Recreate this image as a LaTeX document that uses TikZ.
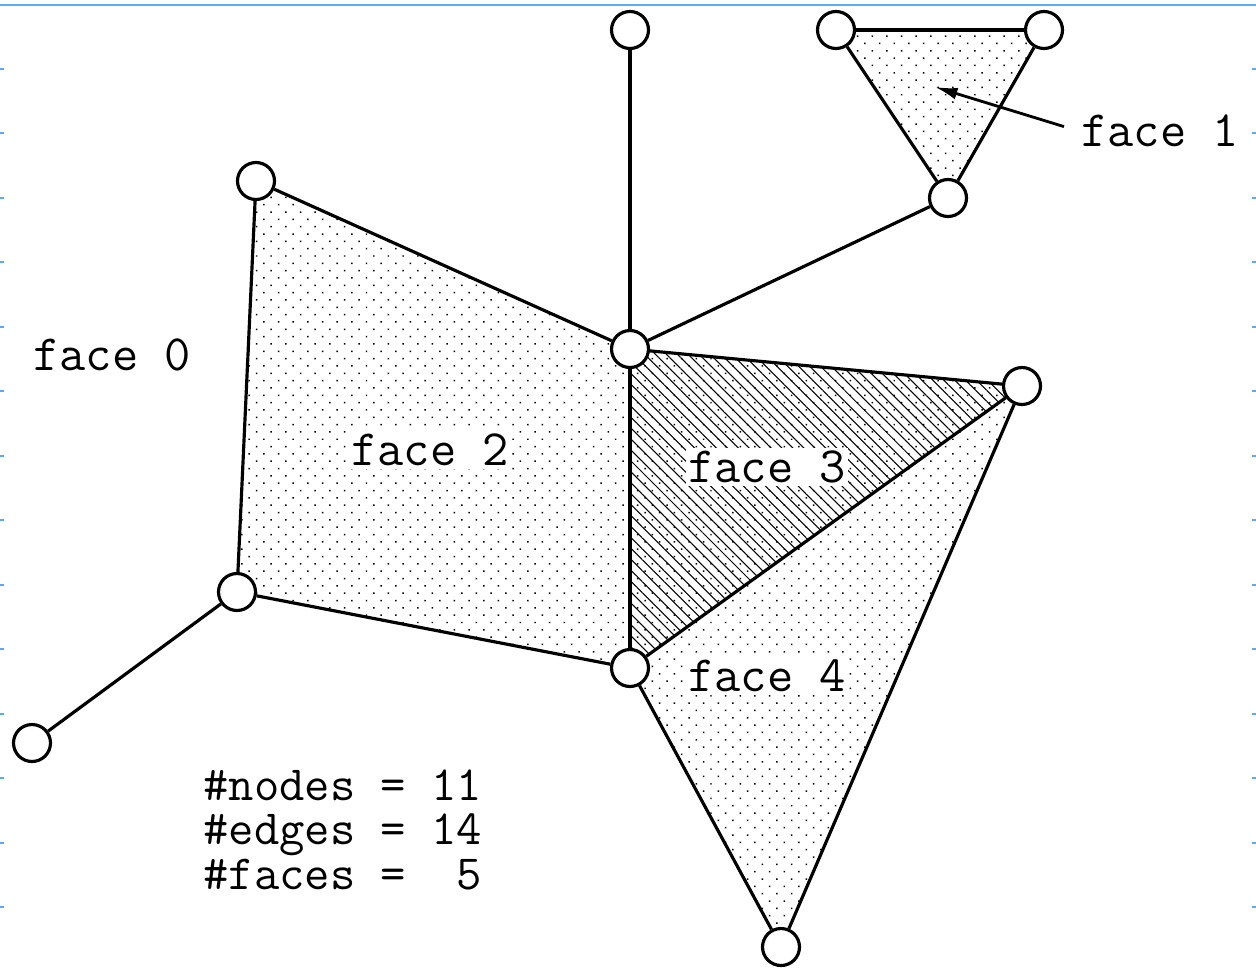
\documentclass[tikz,border=0pt]{standalone}
\usetikzlibrary{backgrounds,patterns.meta,arrows.meta}
\definecolor{frameblue}{RGB}{90,170,245}
\begin{document}
\begin{tikzpicture}[
    x=0.02cm, y=-0.02cm,                                  % one unit is one pixel of the sketch
    vtx/.style={circle, draw, fill=white, line width=1.8pt,
                minimum size=0.74cm, inner sep=0pt},      % graph node
    edge/.style={line width=1.8pt},                       % graph edge
    dotfill/.style={pattern={Dots[angle=45, distance=5.9pt, radius=0.6pt]}},
    hatchfill/.style={pattern={Lines[angle=-45, distance=4.4pt, line width=0.6pt]}},
    lab/.style={font=\fontsize{29}{25}\ttfamily, inner sep=1.5pt},
    count/.style={font=\fontsize{28}{25}\ttfamily, inner sep=0pt, anchor=base west},
    arr/.style={line width=1.6pt, -{Latex[length=0.45cm, width=0.24cm]}},
    frame/.style={draw=frameblue, line width=0.04cm}]     % page frame marks
    \useasboundingbox (0,0) rectangle (1256,967);
    % page frame
    \draw[frame] (0,4.5) -- (1256,4.5);
    \foreach \k in {1,...,14} {
      \draw[frame] (0,4+64.5*\k) -- (4,4+64.5*\k);
      \draw[frame] (1252,4+64.5*\k) -- (1256,4+64.5*\k);
    }
    % nodes
    \node[vtx] (top)  at (630,30)  {};
    \node[vtx] (triL) at (836,30)  {};
    \node[vtx] (triR) at (1044,30) {};
    \node[vtx] (triB) at (948,198) {};
    \node[vtx] (nw)   at (256,181) {};
    \node[vtx] (hub)  at (630,349) {};
    \node[vtx] (east) at (1022,386) {};
    \node[vtx] (west) at (237,592) {};
    \node[vtx] (low)  at (630,668) {};
    \node[vtx] (leaf) at (32,743)  {};
    \node[vtx] (bot)  at (781,947) {};
    \begin{scope}[on background layer]
      % faces
      \fill[dotfill] (triL.center) -- (triR.center) -- (triB.center) -- cycle;
      \fill[dotfill] (nw.center) -- (hub.center) -- (low.center) -- (west.center) -- cycle;
      \fill[dotfill] (hub.center) -- (east.center) -- (low.center) -- cycle;
      \fill[hatchfill] (hub.center) -- (east.center) -- (low.center) -- cycle;
      \fill[dotfill] (low.center) -- (east.center) -- (bot.center) -- cycle;
      % edges
      \draw[edge] (top) -- (hub);
      \draw[edge] (triL) -- (triR);
      \draw[edge] (triR) -- (triB);
      \draw[edge] (triB) -- (triL);
      \draw[edge] (triB) -- (hub);
      \draw[edge] (nw) -- (hub);
      \draw[edge] (nw) -- (west);
      \draw[edge] (west) -- (low);
      \draw[edge] (hub) -- (low);
      \draw[edge] (hub) -- (east);
      \draw[edge] (east) -- (low);
      \draw[edge] (east) -- (bot);
      \draw[edge] (low) -- (bot);
      \draw[edge] (west) -- (leaf);
    \end{scope}
    % labels
    \node[lab] (f0) at (112,355) {face 0};
    \node[lab] (f1) at (1160,131) {face 1};
    \node[lab, fill=white] (f2) at (430,450) {face 2};
    \node[lab, fill=white] (f3) at (767,467) {face 3};
    \node[lab, fill=white] (f4) at (767,676) {face 4};
    % counts
    \node[count] (nnodes) at (203,800) {\#nodes = 11};
    \node[count] (nedges) at (203,844.5) {\#edges = 14};
    \node[count] (nfaces) at (203,889) {\#faces =~~5};
    \coordinate (f1pt) at (935,87);
    \draw[arr, shorten <=0.3cm] (f1.west) -- (f1pt);
\end{tikzpicture}
\end{document}
